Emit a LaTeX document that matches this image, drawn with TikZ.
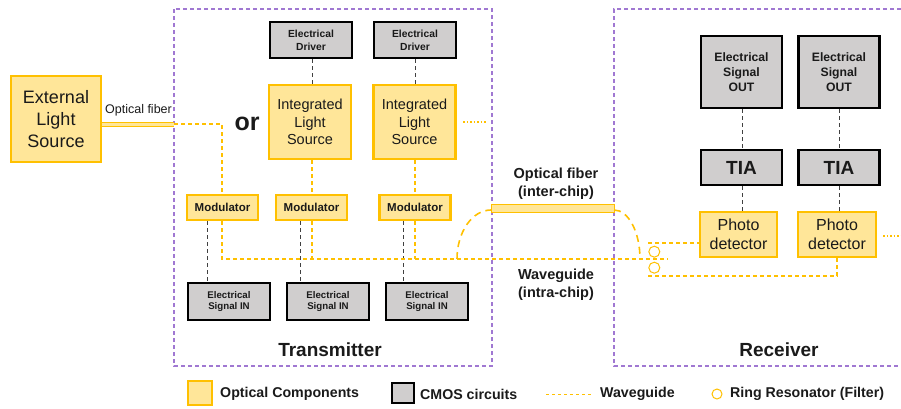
\documentclass[tikz,border=0pt]{standalone}
\usepackage{fontspec}
\setmainfont{Liberation Sans}
\definecolor{ybord}{HTML}{FFC000}
\definecolor{yfill}{HTML}{FFE699}
\definecolor{gfill}{HTML}{D0CECE}
\definecolor{purp}{RGB}{160,120,210}
\definecolor{dgray}{HTML}{404040}
\definecolor{txt}{HTML}{1A1A1A}
\tikzset{
  opt/.style={draw=ybord, fill=yfill, line width=2.6pt, align=center, inner sep=0pt, text=txt},
  cmos/.style={draw=black, fill=gfill, line width=2.6pt, align=center, inner sep=0pt, text=txt},
  wg/.style={draw=ybord, line width=1.3pt, dash pattern=on 4pt off 3pt},
  wgarc/.style={draw=ybord, line width=1.6pt, dash pattern=on 7pt off 5pt},
  wgdot/.style={draw=ybord, line width=1.3pt, dash pattern=on 1.5pt off 2pt},
  el/.style={draw=dgray, line width=0.9pt, dash pattern=on 4pt off 3pt},
  region/.style={draw=purp, line width=1.3pt, dash pattern=on 4pt off 3pt},
  ring/.style={circle, draw=ybord, line width=1pt, minimum size=11pt, inner sep=0pt},
  lbl/.style={inner sep=0pt, align=center, text=txt},
}
\begin{document}
\begin{tikzpicture}[x=1pt,y=-1pt]
\useasboundingbox (0,0) rectangle (901,408);

% regions
\draw[region] (174,9) rectangle (492,366);
\draw[region] (901,9) -- (614,9) -- (614,366) -- (901,366);

% external light source
\node[opt, minimum width=90pt, minimum height=86pt, font=\fontsize{18}{22}\selectfont] (els) at (56,119) {External\\Light\\Source};
\node[lbl, font=\fontsize{12.5}{15}\selectfont] (oflbl) at (138.5,110) {Optical fiber};
\coordinate (fe) at (174,124);

\node[lbl, font=\fontsize{25}{28}\bfseries\selectfont] (or) at (247,124) {or};

% drivers
\node[cmos, minimum width=82pt, minimum height=36pt, font=\fontsize{10.3}{12.7}\bfseries\selectfont] (d1) at (311,40) {Electrical\\Driver};
\node[cmos, minimum width=82pt, minimum height=36pt, font=\fontsize{10.3}{12.7}\bfseries\selectfont] (d2) at (415,40) {Electrical\\Driver};
% integrated light sources
\node[opt, minimum width=82pt, minimum height=74pt, font=\fontsize{14.5}{17.5}\selectfont] (ils1) at (310,122) {Integrated\\Light\\Source};
\node[opt, minimum width=82pt, minimum height=74pt, font=\fontsize{14.5}{17.5}\selectfont] (ils2) at (414.5,122) {Integrated\\Light\\Source};
% modulators
\node[opt, minimum width=71pt, minimum height=25pt, font=\fontsize{11.5}{13}\bfseries\selectfont] (m1) at (222.5,207.5) {Modulator};
\node[opt, minimum width=71pt, minimum height=25pt, font=\fontsize{11.5}{13}\bfseries\selectfont] (m2) at (311.5,207.5) {Modulator};
\node[opt, minimum width=71pt, minimum height=25pt, font=\fontsize{11.5}{13}\bfseries\selectfont] (m3) at (415,207.5) {Modulator};
% signal in
\node[cmos, minimum width=82pt, minimum height=37pt, font=\fontsize{9.7}{11.5}\bfseries\selectfont] (e1) at (229,301.5) {Electrical\\Signal IN};
\node[cmos, minimum width=82pt, minimum height=37pt, font=\fontsize{9.7}{11.5}\bfseries\selectfont] (e2) at (328,301.5) {Electrical\\Signal IN};
\node[cmos, minimum width=82pt, minimum height=37pt, font=\fontsize{9.7}{11.5}\bfseries\selectfont] (e3) at (427,301.5) {Electrical\\Signal IN};

% receiver
\node[cmos, minimum width=81pt, minimum height=72pt, font=\fontsize{12.2}{15.3}\bfseries\selectfont] (o1) at (741.5,72) {Electrical\\Signal\\OUT};
\node[cmos, minimum width=81pt, minimum height=72pt, font=\fontsize{12.2}{15.3}\bfseries\selectfont] (o2) at (839,72) {Electrical\\Signal\\OUT};
\node[cmos, minimum width=81pt, minimum height=35pt, font=\fontsize{19}{22}\bfseries\selectfont] (t1) at (741.5,167.5) {TIA};
\node[cmos, minimum width=81pt, minimum height=35pt, font=\fontsize{19}{22}\bfseries\selectfont] (t2) at (839,167.5) {TIA};
\node[opt, minimum width=77pt, minimum height=45pt, font=\fontsize{16}{19.3}\selectfont] (p1) at (738.5,234.5) {Photo\\detector};
\node[opt, minimum width=78pt, minimum height=45pt, font=\fontsize{16}{19.3}\selectfont] (p2) at (837,234.5) {Photo\\detector};

% electrical connectors
\draw[el] (312,0 |- d1.south) -- (312,0 |- ils1.north);
\draw[el] (415,0 |- d2.south) -- (415,0 |- ils2.north);
\draw[el] (207,0 |- m1.south) -- (207,0 |- e1.north);
\draw[el] (300,0 |- m2.south) -- (300,0 |- e2.north);
\draw[el] (403,0 |- m3.south) -- (403,0 |- e3.north);
\draw[el] (742,0 |- o1.south) -- (742,0 |- t1.north);
\draw[el] (839,0 |- o2.south) -- (839,0 |- t2.north);
\draw[el] (742,0 |- t1.south) -- (742,0 |- p1.north);
\draw[el] (839,0 |- t2.south) -- (839,0 |- p2.north);

% waveguides
\draw[wg] (fe) -- (222,124) -- (222,0 |- m1.north);
\draw[draw=ybord, line width=1pt, double=yfill, double distance=3pt] (els.east |- fe) -- (fe);
\draw[wg] (312,0 |- ils1.south) -- (312,0 |- m2.north);
\draw[wg] (415,0 |- ils2.south) -- (415,0 |- m3.north);
\coordinate (bend) at (222,259);
\coordinate (wgend) at (668,259);
\draw[wg] (222,0 |- m1.south) -- (bend) -- (wgend);
\draw[wg] (312,0 |- m2.south) -- (312,259);
\draw[wg] (415,0 |- m3.south) -- (415,259);
\draw[wgdot] (463,122) -- (487,122);
\draw[wgdot] (883,236) -- (901,236);

% inter-chip fiber
\node[draw=ybord, fill=yfill, line width=1pt, minimum width=123pt, minimum height=8pt, inner sep=0pt] (fib) at (552.5,208.5) {};
\draw[wgarc] (457,259) arc[start angle=180, end angle=270, x radius=34, y radius=49];
\draw[wgarc] (614,210) arc[start angle=270, end angle=360, x radius=26, y radius=49];

% rings and drops
\node[ring] (r1) at (654.3,251.7) {};
\node[ring] (r2) at (654.3,267.7) {};
\draw[wg] (648,243) -- (p1.west |- 648,243);
\draw[wg] (648,276) -- (837,276) -- (837,0 |- p2.south);

% labels
\node[lbl, font=\fontsize{14.5}{18.3}\bfseries\selectfont] (oflbl2) at (556,184) {Optical fiber\\(inter-chip)};
\node[lbl, font=\fontsize{14.5}{18.3}\bfseries\selectfont] (wglbl) at (556,285) {Waveguide\\(intra-chip)};
\node[lbl, font=\fontsize{19}{22}\bfseries\selectfont] (tx) at (330,350) {Transmitter};
\node[lbl, font=\fontsize{19}{22}\bfseries\selectfont] (rx) at (779,350) {Receiver};

% legend
\node[opt, line width=2.2pt, minimum width=24pt, minimum height=24pt] (lg1) at (200,393) {};
\node[lbl, anchor=west, font=\fontsize{14.2}{16}\bfseries\selectfont] (lt1) at (220,394) {Optical Components};
\node[cmos, line width=2.2pt, minimum width=22pt, minimum height=20pt] (lg2) at (403,393) {};
\node[lbl, anchor=west, font=\fontsize{14.2}{16}\bfseries\selectfont] (lt2) at (420,394) {CMOS circuits};
\coordinate (lw1) at (546,394);
\coordinate (lw2) at (592,394);
\draw[wg, line width=1pt, dash pattern=on 3pt off 3pt] (lw1) -- (lw2);
\node[lbl, anchor=west, font=\fontsize{14.2}{16}\bfseries\selectfont] (lt3) at (600,394) {Waveguide};
\node[ring, minimum size=10pt] (lg4) at (717,394) {};
\node[lbl, anchor=west, font=\fontsize{14.2}{16}\bfseries\selectfont] (lt4) at (730,394) {Ring Resonator (Filter)};
\end{tikzpicture}
\end{document}
